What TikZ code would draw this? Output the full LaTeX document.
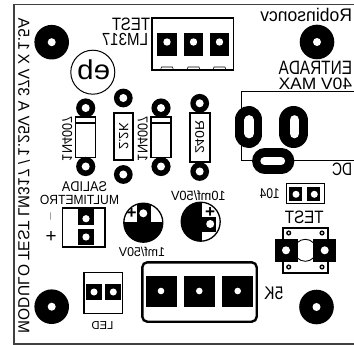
\documentclass[tikz,border=0pt]{standalone}
\usepackage{fontspec}
\usepackage{graphicx}
\setmainfont{Liberation Sans}
\newcommand{\mtxt}[5]{\node[inner sep=0pt] at ({(#1+#2)/2},{(#3+#4)/2}) {\reflectbox{\resizebox*{\dimexpr #2pt-#1pt\relax}{\dimexpr #4pt-#3pt\relax}{#5}}};}
\newcommand{\vtxt}[5]{\node[inner sep=0pt] at ({(#1+#2)/2},{(#3+#4)/2}) {\rotatebox{-90}{\reflectbox{\resizebox*{\dimexpr #4pt-#3pt\relax}{\dimexpr #2pt-#1pt\relax}{#5}}}};}
\newcommand{\ring}[4]{\fill (#1,#2) circle[radius=#3pt]; \fill[white] (#1,#2) circle[radius=#4pt];}
\newcommand{\sqpad}[7]{\fill (#1,#3) rectangle (#2,#4); \fill[white] (#5,#6) circle[radius=#7pt];}
\tikzset{body/.style={draw=black,line width=1.3pt,fill=white},mark tab/.style={draw=black,line width=.6pt}}
\begin{document}
\begin{tikzpicture}[x=1pt,y=-1pt]
\useasboundingbox (0,0) rectangle (354,345);
\fill[white] (0,0) rectangle (354,345);
% frame
\draw[line width=1.2pt,black!75] (354,4.8) -- (14,4.8) -- (14,344) -- (354,344);
% mounting holes
\ring{51.7}{42.2}{17.3}{4}
\ring{317}{42}{17.3}{4}
\ring{51.7}{306.7}{17.3}{4}
\ring{316.5}{307}{17.3}{4}
% top texts
\mtxt{112}{150}{18.3}{31}{TEST}
\mtxt{102}{148}{33.3}{45.7}{LM317}
\mtxt{260.3}{352}{8.3}{21.7}{Robinsoncv}
\mtxt{278.7}{352}{61.7}{75}{ENTRADA}
\mtxt{278.7}{352}{78.3}{90}{40V MAX}
\mtxt{332}{352}{163.3}{176}{DC}
% left text
\vtxt{18.3}{30}{18.3}{333}{MODULO TEST LM317 / 1.25V A 37V X 1.5A}
% logo
\draw[line width=1pt] (92.8,72.2) circle[radius=22pt];
\mtxt{77.3}{110}{60}{80}{eb}
% regulator connector
\draw[line width=1.3pt] (152,18) rectangle (233.7,70);
\foreach \c in {167,193.5,219.5} {
  \fill (\c-9.7,33.3) rectangle (\c+9.7,55.7);
  \fill[white] (\c,42) circle[radius=3.7pt];
  \draw[mark tab] (\c-6.5,70) -- (\c-5.5,67) -- (\c+5.5,67) -- (\c+6.5,70);
}
% diodes
\foreach \c in {85.7,161} {
  \draw[body] (\c-10,117) rectangle (\c+10,157.7);
  \draw[line width=1.1pt] (\c-10,123) -- (\c+10,123);
  \ring{\c}{108}{9.6}{4}
  \ring{\c}{166.5}{9.6}{4}
}
\vtxt{62.3}{72.3}{116.7}{161}{1N4007}
\vtxt{137.7}{147.7}{116.7}{161}{1N4007}
% resistors
\draw[body] (114,113) rectangle (133,160);
\ring{123.3}{98}{9.4}{4}
\ring{123.3}{174.5}{9.4}{4}
\vtxt{119}{128.3}{123.3}{150}{2.2K}
\draw[body] (190,113) rectangle (210,162);
\ring{199.7}{103.3}{9.4}{4}
\ring{199.7}{171.5}{9.4}{4}
\vtxt{195.3}{204.3}{120.7}{154}{240R}
% DC jack
\draw[line width=1pt] (354,91.7) -- (241.3,91.7) -- (241.3,161) -- (354,161);
\draw[line width=27pt,line cap=round] (248.7,119.5) -- (248.7,134.5);
\draw[white,line width=9.7pt,line cap=round] (249.3,120) -- (249.3,133.5);
\draw[line width=29pt,line cap=round] (293.7,120.5) -- (293.7,133.5);
\draw[white,line width=9.7pt,line cap=round] (294.5,120) -- (294.5,133.5);
\draw[line width=25.3pt,line cap=round] (264.7,161) -- (281.7,161);
\draw[white,line width=8.3pt,line cap=round] (264.5,161) -- (281,161);
% capacitor 1
\draw[line width=1.3pt,fill=white] (143.3,222.7) circle[radius=19.5pt];
\begin{scope}
\clip (143.3,222.7) circle[radius=19.5pt];
\fill (120,221.7) rectangle (170,245);
\fill (137.3,200) rectangle (150.7,222);
\end{scope}
\fill[white] (143.3,213.3) circle[radius=4pt];
\node[inner sep=0pt,font=\bfseries] at (131.7,213.3) {\resizebox{10pt}{10pt}{+}};
\mtxt{119}{165}{247.3}{256.7}{1mf/50V}
% capacitor 2
\draw[line width=1.3pt,fill=white] (200.7,221.7) circle[radius=19.5pt];
\begin{scope}
\clip (200.7,221.7) circle[radius=19.5pt];
\fill (175,200) rectangle (202.3,245);
\fill (202,217) rectangle (216,232);
\end{scope}
\fill[white] (210.2,224) circle[radius=4pt];
\node[inner sep=0pt,font=\bfseries] at (210,212.5) {\resizebox{10pt}{10pt}{+}};
\mtxt{171}{225.7}{190.5}{200.3}{10mf/50V}
% salida connector
\mtxt{62}{107}{182}{192}{SALIDA}
\mtxt{40}{119}{195.3}{204.7}{MULTIMETRO}
\draw[line width=1.2pt] (62.7,208) rectangle (105,247);
\sqpad{77.7}{94.3}{208.7}{225.3}{86}{218.7}{3.6}
\sqpad{77.7}{94.3}{228.7}{245.3}{86}{237}{3.6}
\node[rotate=90,inner sep=0pt] at (51.3,216.7) {\resizebox{10pt}{1.5pt}{-}};
\node[inner sep=0pt] at (51,236.7) {\resizebox{11pt}{11pt}{+}};
% LED
\draw[line width=1.1pt] (84,272.7) rectangle (122.3,313.7);
\sqpad{86}{101.7}{283.7}{299.7}{94}{292}{3.5}
\sqpad{105}{121}{283.7}{299.7}{113.3}{292}{3.5}
\mtxt{91.7}{113.3}{321.3}{329.3}{LED}
% pot
\draw[line width=2.4pt,rounded corners=5pt] (142.3,262.3) rectangle (256.7,321.7);
\sqpad{146}{176.7}{276}{306.7}{161}{291}{3.3}
\sqpad{184}{215}{276}{306.7}{199.3}{291}{3.3}
\sqpad{222.3}{253.3}{276}{306.7}{237.7}{291}{3.3}
\mtxt{264.3}{283.3}{287.3}{300}{5K}
% jumper 104
\draw[line width=1.1pt] (286.3,183.7) rectangle (324.7,203.7);
\sqpad{288.7}{302}{187}{200.5}{296}{194.3}{3.5}
\sqpad{307}{320.3}{187}{200.5}{314.3}{194.3}{3.5}
\mtxt{259.7}{279.7}{189}{199}{104}
% switch
\mtxt{285}{323.7}{211}{223.7}{TEST}
\draw[line width=1.1pt] (283,228) rectangle (328,273);
\draw[line width=.9pt] (305.3,250.3) circle[radius=11pt];
\sqpad{275.3}{297.7}{238.7}{262}{286}{250.3}{4}
\sqpad{313}{336}{238.7}{262}{324.7}{250.3}{4}
\ring{288.7}{233}{2.6}{1.1}
\ring{322}{233}{2.6}{1.1}
\ring{288.7}{267}{2.6}{1.1}
\ring{322}{267}{2.6}{1.1}
\end{tikzpicture}
\end{document}
